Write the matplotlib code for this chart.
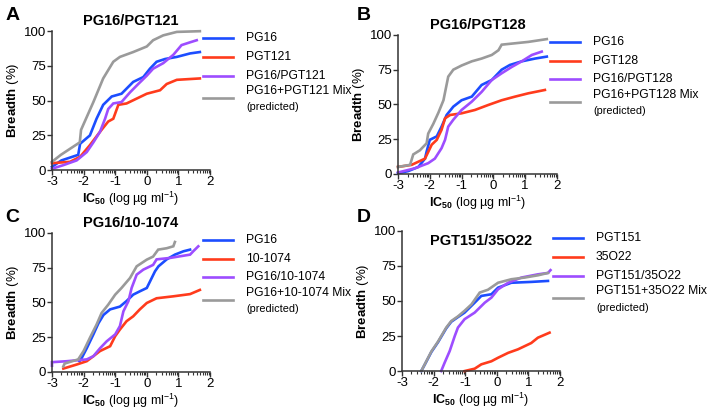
import matplotlib
matplotlib.use("Agg")
import matplotlib.pyplot as plt
import numpy as np

plt.rcParams['font.family'] = ['Liberation Sans', 'DejaVu Sans']
plt.rcParams['mathtext.fontset'] = 'custom'
plt.rcParams['mathtext.rm'] = 'Liberation Sans'
plt.rcParams['mathtext.it'] = 'Liberation Sans:italic'
plt.rcParams['mathtext.bf'] = 'Liberation Sans:bold'

# ---------------- data (log10 IC50, breadth %) ----------------
# Panel A: PG16/PGT121
A_pg16_x = [-3.0, -2.7, -2.17, -2.11, -1.8, -1.59, -1.38, -1.11, -0.8, -0.43, -0.11, 0.1, 0.31, 0.58, 0.95, 1.37, 1.68]
A_pg16_y = [2.4, 7, 11, 19, 25, 37, 47, 53, 55, 63.5, 67, 73, 78, 80, 81.5, 84, 85]
A_pgt121_x = [-3.0, -2.43, -2.11, -1.8, -1.48, -1.22, -1.06, -0.9, -0.64, -0.32, 0.0, 0.42, 0.63, 0.95, 1.68]
A_pgt121_y = [5, 6, 9.6, 18, 27.6, 35, 37, 47, 48, 51.5, 55, 57.5, 62, 65, 66]
A_bi_x = [-3.0, -2.64, -2.22, -1.9, -1.69, -1.48, -1.32, -1.22, -1.06, -0.8, -0.53, -0.27, 0.0, 0.2, 0.52, 0.84, 1.1, 1.37, 1.58]
A_bi_y = [1, 3.6, 7, 13, 20, 27.6, 37, 44, 48, 49, 56, 62, 68, 73, 77, 83, 90, 92, 93.5]
A_mix_x = [-3.0, -2.72, -2.12, -2.08, -1.69, -1.38, -1.06, -0.85, -0.43, 0.0, 0.2, 0.52, 0.95, 1.68]
A_mix_y = [6, 11, 20, 29, 49, 66, 78, 81.5, 85, 89, 93.5, 97, 99.5, 100]

# Panel B: PG16/PGT128
B_pg16_x = [-3.0, -2.68, -2.36, -2.15, -2.1, -2.0, -1.78, -1.63, -1.47, -1.26, -1.0, -0.68, -0.37, -0.05, 0.26, 0.52, 0.89, 1.31, 1.68]
B_pg16_y = [0.5, 2, 5, 11, 16, 24.5, 27, 34, 42.4, 48.4, 53, 55.6, 64, 67.6, 75, 78.4, 81, 83, 84.4]
B_pgt128_x = [-3.0, -2.57, -2.15, -1.94, -1.78, -1.63, -1.52, -1.36, -1.0, -0.58, -0.16, 0.26, 0.68, 1.1, 1.62]
B_pgt128_y = [5, 6.5, 11, 21, 24.5, 31.7, 40, 42.4, 43.6, 46, 49.6, 53, 55.6, 58, 60.4]
B_bi_x = [-3.0, -2.47, -2.05, -1.84, -1.63, -1.52, -1.42, -1.26, -1.0, -0.68, -0.37, -0.05, 0.26, 0.58, 0.89, 1.21, 1.52]
B_bi_y = [1, 4, 7.7, 11, 18.5, 24.5, 34, 39, 46, 52, 59, 67.6, 72.4, 77, 81, 85.6, 88]
B_mix_x = [-3.0, -2.62, -2.52, -2.31, -2.1, -2.05, -1.89, -1.73, -1.57, -1.42, -1.26, -1.0, -0.68, -0.37, -0.05, 0.16, 0.26, 0.68, 1.1, 1.68]
B_mix_y = [5, 6.5, 14, 17, 22, 29, 36, 44, 53, 70, 75, 78, 81, 83, 85.6, 89, 93, 94, 95, 97]

# Panel C: PG16/10-1074
C_pg16_x = [-2.13, -2.06, -1.9, -1.69, -1.53, -1.37, -1.16, -0.85, -0.64, -0.43, -0.22, 0.0, 0.1, 0.26, 0.37, 0.63, 0.89, 1.16, 1.37]
C_pg16_y = [7.7, 10, 17, 27, 35, 41, 45, 47, 51, 55.6, 58, 60.4, 65, 72.4, 76, 81, 84.4, 86.8, 88]
C_10_x = [-2.64, -2.22, -1.9, -1.69, -1.48, -1.16, -1.0, -0.85, -0.64, -0.43, -0.22, 0.0, 0.31, 0.84, 1.37, 1.68]
C_10_y = [2.4, 5.3, 7.7, 11.3, 15, 18.5, 25.7, 30.5, 36.5, 40, 45, 49.6, 53, 54.4, 56, 59]
C_bi_x = [-3.0, -3.0, -2.53, -1.9, -1.69, -1.48, -1.27, -1.0, -0.85, -0.74, -0.58, -0.48, -0.32, -0.11, 0.2, 0.31, 0.73, 1.37, 1.47, 1.63]
C_bi_y = [4.5, 7, 7.7, 9, 11.3, 17, 22, 27, 33, 43.6, 51, 60.4, 70, 73.6, 77, 81, 82, 84.4, 86.8, 90.4]
C_mix_x = [-2.64, -2.6, -2.17, -2.0, -1.8, -1.59, -1.43, -1.22, -1.0, -0.8, -0.53, -0.32, 0.0, 0.2, 0.36, 0.63, 0.84, 0.89]
C_mix_y = [4, 6, 9, 15, 24.5, 34, 42.4, 48.4, 55.6, 60.4, 67.6, 76, 80.8, 83, 88, 89, 90.4, 93.5]

# Panel D: PGT151/35O22
D_151_x = [-2.39, -2.28, -2.07, -1.86, -1.6, -1.44, -1.23, -1.02, -0.7, -0.49, -0.17, 0.04, 0.46, 1.09, 1.62]
D_151_y = [0, 4.6, 13.6, 20.6, 30.5, 35.2, 38.5, 41.7, 48.8, 53.6, 54.8, 59.5, 63, 63.6, 64.3]
D_35_x = [-1.02, -0.7, -0.49, -0.17, 0.04, 0.36, 0.67, 1.09, 1.3, 1.67]
D_35_y = [0, 1.7, 4.8, 7, 9.5, 13, 15.5, 20, 23.8, 27.4]
D_bi_x = [-1.76, -1.65, -1.49, -1.33, -1.23, -1.02, -0.7, -0.38, -0.17, 0.04, 0.36, 0.78, 1.3, 1.62, 1.7]
D_bi_y = [0, 6, 14.3, 25, 31, 37, 41.7, 48.8, 52.4, 58.3, 63, 66.7, 69, 70, 72]
D_mix_x = [-2.39, -2.28, -2.07, -1.86, -1.6, -1.44, -1.23, -1.02, -0.8, -0.54, -0.28, 0.04, 0.46, 0.88, 1.3, 1.62]
D_mix_y = [0, 4.8, 14, 21, 31, 35.7, 39, 43, 47.6, 56, 58, 63, 65.5, 66.7, 68.3, 70]

x_ticks = [-3, -2, -1, 0, 1, 2]
y_ticks = [0, 25, 50, 75, 100]

colors = ['#1c4dff', '#ff3b1c', '#9d4dff', '#9a9a9a']

panels = [
    dict(letter='A', title='PG16/PGT121', rect=[0.0728, 0.591, 0.2213, 0.334],
         labels=['PG16', 'PGT121', 'PG16/PGT121', 'PG16+PGT121 Mix'],
         series=[(A_pg16_x, A_pg16_y), (A_pgt121_x, A_pgt121_y), (A_bi_x, A_bi_y), (A_mix_x, A_mix_y)],
         title_y=1.07, letter_xy=(0.008, 0.962)),
    dict(letter='B', title='PG16/PGT128', rect=[0.5574, 0.582, 0.2227, 0.334],
         labels=['PG16', 'PGT128', 'PG16/PGT128', 'PG16+PGT128 Mix'],
         series=[(B_pg16_x, B_pg16_y), (B_pgt128_x, B_pgt128_y), (B_bi_x, B_bi_y), (B_mix_x, B_mix_y)],
         title_y=1.07, letter_xy=(0.500, 0.962)),
    dict(letter='C', title='PG16/10-1074', rect=[0.0728, 0.106, 0.2213, 0.334],
         labels=['PG16', '10-1074', 'PG16/10-1074', 'PG16+10-1074 Mix'],
         series=[(C_pg16_x, C_pg16_y), (C_10_x, C_10_y), (C_bi_x, C_bi_y), (C_mix_x, C_mix_y)],
         title_y=1.07, letter_xy=(0.008, 0.477)),
    dict(letter='D', title='PGT151/35O22', rect=[0.563, 0.108, 0.2213, 0.337],
         labels=['PGT151', '35O22', 'PGT151/35O22', 'PGT151+35O22 Mix'],
         series=[(D_151_x, D_151_y), (D_35_x, D_35_y), (D_bi_x, D_bi_y), (D_mix_x, D_mix_y)],
         title_y=0.93, letter_xy=(0.500, 0.477)),
]

fig = plt.figure(figsize=(7.14, 4.16), dpi=100)

minor = [np.log10(k * 10.0 ** n) for n in range(-3, 2) for k in range(2, 10)]

for p in panels:
    ax = fig.add_axes(p['rect'])
    for (xs, ys), c in zip(p['series'], colors):
        ax.plot(xs, ys, color=c, lw=1.9, clip_on=False, solid_joinstyle='miter')
    ax.set_xlim(-3, 2)
    ax.set_ylim(0, 100)
    ax.set_xticks(x_ticks)
    ax.set_xticklabels([str(t) for t in x_ticks])
    ax.set_xticks(minor, minor=True)
    ax.set_yticks(y_ticks)
    for s in ['top', 'right']:
        ax.spines[s].set_visible(False)
    for s in ['left', 'bottom']:
        ax.spines[s].set_linewidth(1.1)
        ax.spines[s].set_color('#333333')
    ax.tick_params(axis='both', which='major', direction='out', length=3.5, width=1.0,
                   labelsize=9.5, pad=1, color='#333333')
    ax.tick_params(axis='x', which='minor', direction='out', length=2, width=0.8, color='#333333')
    ax.set_ylabel(r'$\mathbf{Breadth}$ (%)', fontsize=9.5, labelpad=2)
    ax.set_xlabel(r'$\mathbf{IC_{50}}$ (log µg ml$^{-1}$)', fontsize=9, labelpad=1)
    ax.text(0.5, p['title_y'], p['title'], transform=ax.transAxes, ha='center', va='center',
            fontsize=10.5, fontweight='bold')
    fig.text(p['letter_xy'][0], p['letter_xy'][1], p['letter'], fontsize=14, fontweight='bold',
             ha='left', va='center')
    # legend drawn to the right of the axes
    rows = [0.95, 0.813, 0.68, 0.518]
    for lab, c, yy in zip(p['labels'], colors, rows):
        ax.plot([0.955, 1.145], [yy, yy], transform=ax.transAxes, color=c, lw=1.9, clip_on=False)
        ty = yy if lab != p['labels'][-1] else 0.568
        ax.text(1.228, ty, lab, transform=ax.transAxes, fontsize=8.7, ha='left', va='center')
    ax.text(1.228, 0.453, '(predicted)', transform=ax.transAxes, fontsize=7.8, ha='left', va='center')

fig.savefig('out.png', dpi=100)
